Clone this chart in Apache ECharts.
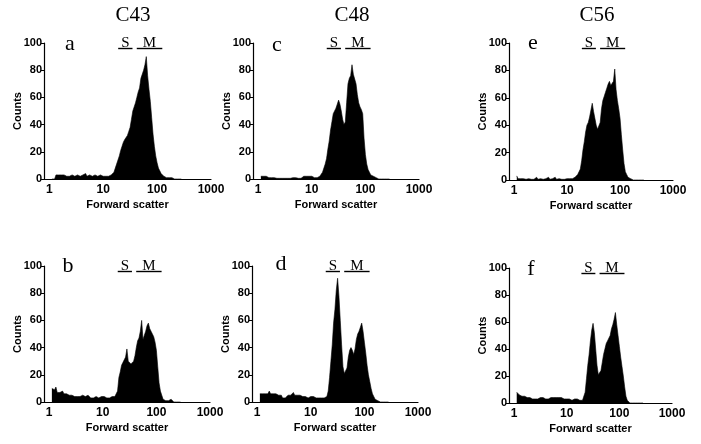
<!DOCTYPE html>
<html><head><meta charset="utf-8">
<script src="https://cdn.jsdelivr.net/npm/echarts@6/dist/echarts.min.js"></script>
<style>html,body{margin:0;padding:0;background:#fff}#c{width:701px;height:444px}</style>
</head><body><div id="c"></div>
<script>
// ---- data ----
const columnTitles = ['C43', 'C48', 'C56'];
const panelLetters = ['a', 'b', 'c', 'd', 'e', 'f'];
const yTickValues = [0, 20, 40, 60, 80, 100];
const xTickLabels = [1, 10, 100, 1000];
const xAxisTitle = 'Forward scatter';
const yAxisTitle = 'Counts';
// gates (forward-scatter range) and their drawing level in counts
const gateS = [19, 35];
const gateM = [42, 125];
const gateLevel = 96;
// log-spaced channels: first channel exponent and step (decades)
const channelLogStart = 0.05;
const channelLogStep = 0.025;

const countsA = [0,0,0,3,4,3,2,3,2,3,
  2,2,3,2,2,3,2,2,2,3,
  2,2,2,3,2,4,2,2,3,2,
  2,2,3,2,2,2,3,2,2,3,
  2,3,2,3,3,3,5,8,11,14,
  17,21,24,27,29,28,32,35,38,44,
  50,49,56,60,64,67,74,77,80,84,
  90,76,66,57,45,33,24,17,12,8,
  6,4,3,2,1,1,1,1,2,1,
  0,0,0,0,0,0,0];
const countsB = [10,11,9,11,7,8,7,6,8,6,
  5,6,6,5,4,5,4,4,5,4,
  5,4,4,5,5,4,4,5,4,3,
  4,3,3,4,3,3,3,4,5,4,
  4,3,4,3,3,4,3,4,5,8,
  18,22,27,29,31,33,39,30,29,28,
  28,30,34,40,45,47,52,60,46,49,
  52,56,58,54,52,50,48,44,38,26,
  14,8,5,2,1,1,1,1,1,2,
  1,0,0,0,0,0,0];
const countsC = [2,1,2,1,2,2,1,2,1,2,
  1,0.5,0.5,0.5,0.5,0.5,0.5,0.5,0.5,0.5,
  0.5,0.5,0.5,0.5,1,2,1,0.5,0.5,0.5,
  0.5,0.5,2,1,2,1,2,1,2,1,
  1,1,1,2,2,3,5,8,11,15,
  22,28,36,42,48,50,52,55,58,55,
  50,44,40,42,56,70,74,76,84,77,
  76,70,62,56,53,51,48,30,18,11,
  7,5,3,2,2,1,1,0,0,0,
  0,0,0,0,0,0,0];
const countsD = [6,5,6,5,6,7,6,8,6,7,
  6,5,6,5,5,4,5,3,2,3,
  4,5,6,5,6,7,5,6,5,4,
  5,4,4,5,4,4,3,4,4,3,
  4,3,3,4,3,3,3,4,3,3,
  4,8,18,30,42,58,68,82,91,78,
  60,42,26,21,20,25,33,38,40,38,
  35,39,46,50,52,55,58,52,44,36,
  27,20,15,10,6,4,2,1,1,0,
  0,0,0,0,0,0,0];
const countsE = [3,1,1,1,2,1,1,0.5,0.5,1,
  0.5,0.5,1,0.5,0.5,2,0.5,0.5,1,0.5,
  0.5,0.5,1,0.5,2,0.5,0.5,1,0.5,2,
  0.5,0.5,1,0.5,0.5,1,0.5,1,1,2,
  1,2,1,2,2,3,4,6,8,14,
  22,28,35,40,42,46,47,56,50,45,
  40,37,36,42,52,58,61,64,67,70,
  72,69,68,72,81,66,58,52,45,33,
  22,12,6,4,2,2,1,1,0,0,
  0,0,0,0,0,0,0];
const countsF = [8,7,6,7,5,6,5,5,4,5,
  4,4,3,4,3,4,3,4,4,3,
  4,3,3,4,3,3,4,3,4,3,
  4,5,4,3,4,4,3,4,3,4,
  3,3,2,3,3,2,3,2,2,2,
  2,3,8,18,28,36,46,54,59,52,
  40,28,21,20,24,30,36,40,44,46,
  46,50,55,58,62,67,58,50,42,34,
  27,20,12,5,2,1,0,0,0,0,
  0,0,0,0,0,0,0];

// ---- layout ----
const panelCounts = [countsA, countsB, countsC, countsD, countsE, countsF];
const grids = [
  {left: 44, top: 43, width: 167, height: 136},
  {left: 44, top: 266, width: 166, height: 136},
  {left: 253, top: 43, width: 166, height: 136},
  {left: 252, top: 266, width: 166, height: 136},
  {left: 509, top: 43, width: 164, height: 137},
  {left: 509, top: 268, width: 163, height: 135}
];
const titlePos = [[133, 15], [352, 15], [597, 15]];
const letterPos = [[70, 55], [68, 277], [277, 56], [281, 275], [533, 54], [531, 280]];

const sans = '"Liberation Sans", Arial, sans-serif';
const serif = '"Liberation Serif", "Times New Roman", serif';

const chart = echarts.init(document.getElementById('c'), null, {renderer: 'canvas'});

const xAxes = [], yAxes = [], series = [];
panelCounts.forEach((counts, i) => {
  xAxes.push({
    type: 'log', logBase: 10, gridIndex: i, min: 0.8, max: 1000,
    axisLine: {show: true, lineStyle: {color: '#000', width: 1.2}},
    axisTick: {show: false},
    splitLine: {show: false},
    axisLabel: {
      color: '#000', fontFamily: sans, fontWeight: 'bold', fontSize: 12, margin: 5,
      formatter: v => (xTickLabels.some(t => Math.abs(t - v) < 1e-6 * t) ? String(Math.round(v)) : '')
    },
    name: xAxisTitle, nameLocation: 'middle', nameGap: 20, nameMoveOverlap: false,
    nameTextStyle: {color: '#000', fontFamily: sans, fontWeight: 'bold', fontSize: 11}
  });
  yAxes.push({
    type: 'value', gridIndex: i, min: yTickValues[0], max: yTickValues[yTickValues.length - 1],
    interval: yTickValues[1] - yTickValues[0],
    axisLine: {show: true, lineStyle: {color: '#000', width: 1.2}},
    axisTick: {show: true, length: 3, lineStyle: {color: '#000'}},
    splitLine: {show: false},
    axisLabel: {color: '#000', fontFamily: sans, fontWeight: 'bold', fontSize: 11, margin: 2},
    name: yAxisTitle, nameLocation: 'middle', nameGap: 21, nameMoveOverlap: false,
    nameTextStyle: {color: '#000', fontFamily: sans, fontWeight: 'bold', fontSize: 11}
  });
  series.push({
    type: 'line', xAxisIndex: i, yAxisIndex: i,
    data: counts.map((v, k) => [Math.pow(10, channelLogStart + channelLogStep * k), v]),
    showSymbol: false, symbol: 'none', smooth: false,
    lineStyle: {color: '#000', width: 0.6},
    areaStyle: {color: '#000', opacity: 1},
    silent: true, animation: false,
    markLine: {
      silent: true, animation: false, symbol: ['none', 'none'],
      lineStyle: {color: '#000', width: 1.4, type: 'solid'},
      label: {show: true, position: 'middle', formatter: '{b}', color: '#000',
              fontFamily: serif, fontSize: 15, distance: -2},
      emphasis: {disabled: true},
      data: [
        [{name: 'S', coord: [gateS[0], gateLevel]}, {coord: [gateS[1], gateLevel]}],
        [{name: 'M', coord: [gateM[0], gateLevel]}, {coord: [gateM[1], gateLevel]}]
      ]
    }
  });
});

const graphics = [];
columnTitles.forEach((t, i) => graphics.push({
  type: 'text', x: titlePos[i][0], y: titlePos[i][1],
  style: {text: t, font: '21px ' + serif, fill: '#000', textAlign: 'center', textVerticalAlign: 'middle'}
}));
panelLetters.forEach((t, i) => graphics.push({
  type: 'text', x: letterPos[i][0], y: letterPos[i][1],
  style: {text: t, font: '22px ' + serif, fill: '#000', textAlign: 'center', textVerticalAlign: 'bottom'}
}));

chart.setOption({
  backgroundColor: '#fff',
  animation: false,
  grid: grids.map(g => Object.assign({containLabel: false, outerBoundsMode: 'none'}, g)),
  xAxis: xAxes,
  yAxis: yAxes,
  series: series,
  graphic: graphics
});
</script>
</body></html>
